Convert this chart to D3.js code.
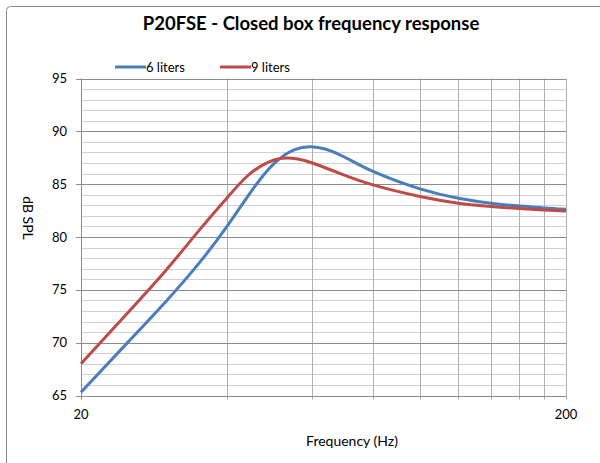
<!DOCTYPE html>
<html>
<head>
<meta charset="utf-8">
<script src="https://cdn.jsdelivr.net/npm/d3@7"></script>
<style>
  body { margin: 0; background: #fff; }
  svg text { font-family: Lato, "Open Sans", sans-serif; fill: #000; }
</style>
</head>
<body>
<svg id="chart" width="600" height="463"></svg>
<script>
// frequency response (Hz, dB SPL)
const freqs6 = [20, 25, 30, 35, 40, 45, 50, 55, 59.5, 64, 70, 80, 100, 120, 140, 160, 180, 200]
const spl6 = [65.3, 70.05, 73.95, 77.5, 81.0, 84.4, 86.95, 88.25, 88.55, 88.3, 87.55, 86.2, 84.55, 83.67, 83.2, 82.94, 82.75, 82.63]
const freqs9 = [20, 25, 30, 35, 40, 44, 48, 52, 56, 60, 68.5, 80, 100, 120, 140, 160, 180, 200]
const spl9 = [68.0, 72.85, 76.9, 80.6, 83.7, 85.75, 86.95, 87.45, 87.38, 87.0, 86.0, 84.93, 83.83, 83.2, 82.88, 82.69, 82.56, 82.47]
const seriesNames = ['6 liters', '9 liters']
const seriesColors = ['#4a7ebb', '#be4b48']
const xGridTicks = [20, 40, 60, 80, 100, 120, 140, 160, 180, 200]
const xLabelTicks = [20, 200]
const yTicks = [65, 70, 75, 80, 85, 90, 95]

const svg = d3.select('#chart')

// outer chart frame (right/bottom are cropped in the original)
svg.append('rect')
    .attr('x', 6.5).attr('y', 6.5)
    .attr('width', 620).attr('height', 480)
    .attr('rx', 4)
    .style('fill', 'none')
    .style('stroke', '#8c8c8c')

const plotL = 81, plotR = 566, plotT = 78.5, plotB = 395.5

const x = d3.scaleLog().domain([20, 200]).range([plotL, plotR])
const y = d3.scaleLinear().domain([65, 95]).range([plotB, plotT])

// minor horizontal grid every 1 dB
const minor = d3.range(66, 95).filter(v => v % 5 != 0)
svg.append('g').selectAll('line')
    .data(minor).enter().append('line')
    .attr('x1', plotL).attr('x2', plotR)
    .attr('y1', d => Math.round(y(d)) + 0.5).attr('y2', d => Math.round(y(d)) + 0.5)
    .style('stroke', '#d0d0d0')

// vertical grid (with the little ticks under the axis)
svg.append('g').selectAll('line')
    .data(xGridTicks).enter().append('line')
    .attr('x1', d => Math.round(x(d)) + 0.5).attr('x2', d => Math.round(x(d)) + 0.5)
    .attr('y1', plotT).attr('y2', plotB + 4)
    .style('stroke', '#b0b0b0')

// major horizontal grid
svg.append('g').selectAll('line')
    .data(yTicks).enter().append('line')
    .attr('x1', plotL - 5).attr('x2', plotR)
    .attr('y1', d => Math.round(y(d)) + 0.5).attr('y2', d => Math.round(y(d)) + 0.5)
    .style('stroke', '#8c8c8c')

// axis line
svg.append('line')
    .attr('x1', plotL + 0.5).attr('x2', plotL + 0.5)
    .attr('y1', plotT).attr('y2', plotB + 4)
    .style('stroke', '#8c8c8c')

// y labels
svg.append('g').selectAll('text')
    .data(yTicks).enter().append('text')
    .attr('x', 67).attr('y', d => y(d))
    .attr('dy', '0.35em')
    .attr('text-anchor', 'end')
    .style('font-size', '13px')
    .text(d => d)

// x labels
svg.append('g').selectAll('text')
    .data(xLabelTicks).enter().append('text')
    .attr('x', d => x(d)).attr('y', 419)
    .attr('text-anchor', 'middle')
    .style('font-size', '13px')
    .text(d => d)

// titles
svg.append('text')
    .attr('x', 311).attr('y', 30)
    .attr('text-anchor', 'middle')
    .style('font-size', '18.5px').style('font-weight', 'bold')
    .text('P20FSE - Closed box frequency response')

svg.append('text')
    .attr('x', 352).attr('y', 446)
    .attr('text-anchor', 'middle')
    .style('font-size', '14px')
    .text('Frequency (Hz)')

svg.append('text')
    .attr('transform', 'translate(23,218) rotate(90)')
    .attr('text-anchor', 'middle')
    .style('font-size', '14px')
    .text('dB SPL')

// curves
const line = d3.line()
    .x(d => x(d[0])).y(d => y(d[1]))
    .curve(d3.curveNatural)

const series = [d3.zip(freqs6, spl6), d3.zip(freqs9, spl9)]
series.forEach((s, i) => {
    svg.append('path')
        .datum(s)
        .attr('d', line)
        .style('fill', 'none')
        .style('stroke', seriesColors[i])
        .style('stroke-width', 3)
        .style('stroke-linejoin', 'round')
})

// legend
const legendX = [115, 220]
seriesNames.forEach((name, i) => {
    svg.append('line')
        .attr('x1', legendX[i]).attr('x2', legendX[i] + 31)
        .attr('y1', 67).attr('y2', 67)
        .style('stroke', seriesColors[i])
        .style('stroke-width', 3)
    svg.append('text')
        .attr('x', legendX[i] + 31).attr('y', 67)
        .attr('dy', '0.35em')
        .style('font-size', '13px')
        .text(name)
})
</script>
</body>
</html>
